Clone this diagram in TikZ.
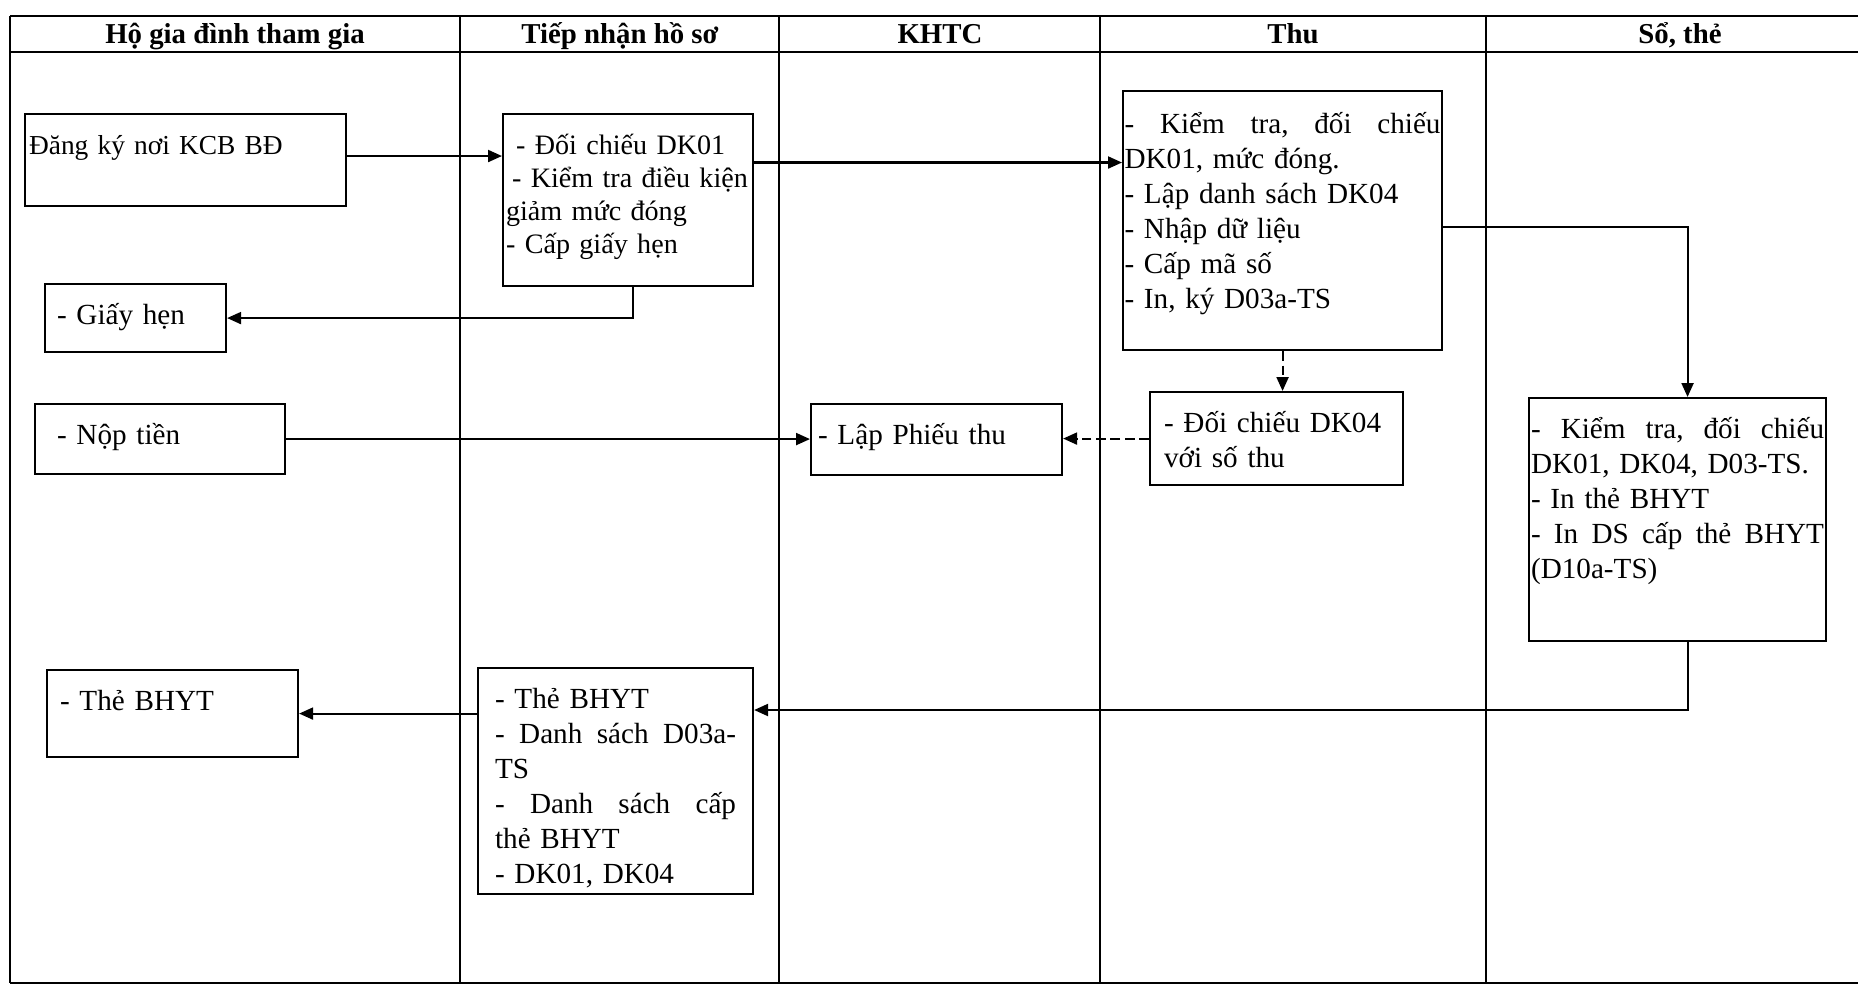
\documentclass[tikz,border=0pt]{standalone}
\usepackage{fontspec}
\setmainfont{Liberation Serif}
\usetikzlibrary{arrows.meta}

\begin{document}
\begin{tikzpicture}[
    lane/.style={line width=0.45pt},
    lanehead/.style={anchor=base, font=\fontsize{8.2}{10}\selectfont\bfseries},
    procbox/.style={draw, line width=0.6pt, anchor=north west, inner ysep=0pt, align=left, text height=0.4cm, font=\fontsize{8.3}{9.96}\selectfont},
    flow/.style={line width=0.6pt, -{Triangle[length=0.14cm,width=0.12cm]}},
    flowdash/.style={flow, dash pattern=on 2.8pt off 1.3pt}
]
    \useasboundingbox (0,0) rectangle (18.58,-9.86);

    % swimlanes
    \draw[lane] (0.10,-0.16) -- (18.58,-0.16);
    \draw[lane] (0.10,-0.52) -- (18.58,-0.52);
    \draw[lane] (0.10,-9.83) -- (18.58,-9.83);
    \draw[lane] (0.10,-0.16) -- (0.10,-9.83);
    \foreach \x in {4.60,7.79,11.00,14.86}
        \draw[lane] (\x,-0.16) -- (\x,-9.83);

    \node[lanehead] (hHo) at (2.35,-0.43) {Hộ gia đình tham gia};
    \node[lanehead] (hTiep) at (6.20,-0.43) {Tiếp nhận hồ sơ};
    \node[lanehead] (hKhtc) at (9.40,-0.43) {KHTC};
    \node[lanehead] (hThu) at (12.93,-0.43) {Thu};
    \node[lanehead] (hSo) at (16.80,-0.43) {Sổ, thẻ};

    % steps
    \node[procbox, inner xsep=0.04cm, text width=3.13cm, text depth=0.52cm, font=\fontsize{7.8}{9.96}\selectfont] (bkReg) at (0.24,-1.13) {Đăng ký nơi KCB BĐ};
    \node[procbox, inner xsep=0.03cm, text width=2.44cm, text depth=1.32cm, font=\fontsize{8.0}{9.42}\selectfont] (bkCheck) at (5.02,-1.13)
        {\hspace*{0.1cm}- Đối chiếu DK01\\ \hspace*{0.06cm}- Kiểm tra điều kiện\\ giảm mức đóng\\ - Cấp giấy hẹn};
    \node[procbox, inner xsep=0.12cm, text width=1.57cm, text depth=0.28cm] (bkNote) at (0.44,-2.83) {- Giấy hẹn};
    \node[procbox, inner xsep=0.015cm, text width=3.16cm, text height=0.42cm, text depth=2.17cm] (bkThu) at (11.22,-0.90)
        {-\hfill Kiểm\hfill tra,\hfill đối\hfill chiếu\\ DK01, mức đóng.\\ - Lập danh sách DK04\\ - Nhập dữ liệu\\ - Cấp mã số\\ - In, ký D03a-TS};
    \node[procbox, inner xsep=0.22cm, text width=2.06cm, text depth=0.30cm] (bkPay) at (0.34,-4.03) {- Nộp tiền};
    \node[procbox, inner xsep=0.07cm, text width=2.37cm, text depth=0.31cm] (bkReceipt) at (8.10,-4.03) {- Lập Phiếu thu};
    \node[procbox, inner xsep=0.14cm, text width=2.25cm, text depth=0.53cm] (bkVerify) at (11.49,-3.91)
        {- Đối chiếu DK04\\ với số thu};
    \node[procbox, inner xsep=0.02cm, text width=2.93cm, text depth=2.03cm] (bkCard) at (15.28,-3.97)
        {-\hfill Kiểm\hfill tra,\hfill đối\hfill chiếu\\ DK01, DK04, D03-TS.\\ - In thẻ BHYT\\ -\hfill In\hfill DS\hfill cấp\hfill thẻ\hfill BHYT\\ (D10a-TS)};
    \node[procbox, inner xsep=0.13cm, text width=2.25cm, text depth=0.47cm] (bkOut) at (0.46,-6.69) {- Thẻ BHYT};
    \node[procbox, inner xsep=0.17cm, text width=2.41cm, text depth=1.86cm] (bkDocs) at (4.77,-6.67)
        {- Thẻ BHYT\\ -\hfill Danh\hfill sách\hfill D03a-\\ TS\\ -\hfill Danh\hfill sách\hfill cấp\\ thẻ BHYT\\ - DK01, DK04};

    % flows
    \coordinate (tThu) at ([yshift=-0.495cm]bkCheck.north east);
    \coordinate (tDocs) at ([yshift=-0.43cm]bkDocs.north east);
    \draw[flow] ([yshift=-0.43cm]bkReg.north east) -- ([yshift=-0.43cm]bkCheck.north west);
    \draw[flow] (tThu) -- (tThu -| bkThu.west);
    \draw[flow] ([xshift=0.05cm]bkCheck.south) |- (bkNote.east);
    \draw[flow] ([yshift=-1.37cm]bkThu.north east) -| ([xshift=0.1cm]bkCard.north);
    \draw[flowdash] (bkThu.south) -- (bkThu.south |- bkVerify.north);
    \draw[flowdash] (bkVerify.west) -- (bkVerify.west -| bkReceipt.east);
    \draw[flow] (bkPay.east) -- (bkPay.east -| bkReceipt.west);
    \draw[flow] ([xshift=0.1cm]bkCard.south) |- (tDocs);
    \draw[flow] (bkDocs.west |- bkOut.east) -- (bkOut.east);
\end{tikzpicture}
\end{document}
